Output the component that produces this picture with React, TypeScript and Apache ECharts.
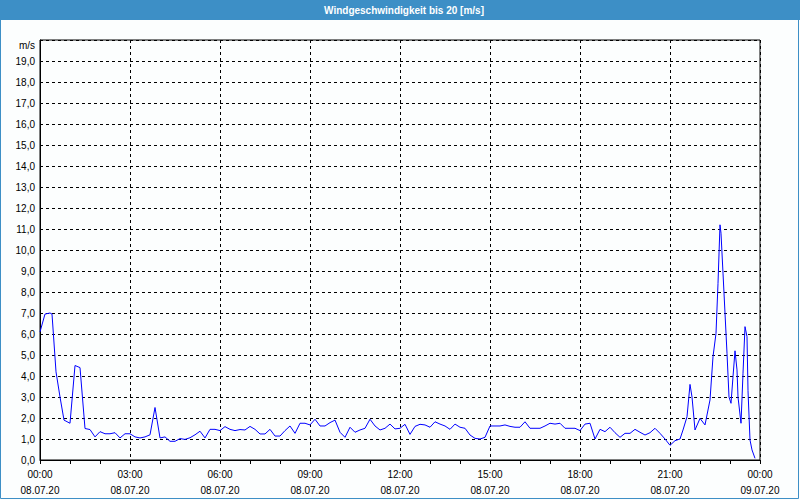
import React, { useEffect, useRef } from 'react';
import * as echarts from 'echarts';

const TITLE = 'Windgeschwindigkeit bis 20 [m/s]';
const UNIT = 'm/s';
const START_DATE = '08.07.20';
const END_DATE = '09.07.20';

// minutes since 08.07.20 00:00
const minutes = [
  0, 10, 20, 24, 32, 40, 48, 60, 70, 80, 90, 100, 110, 120, 130, 140, 150, 160, 170, 180,
  190, 200, 210, 220, 230, 240, 250, 260, 270, 280, 290, 300, 310, 320, 330, 340, 350, 360, 370, 380,
  390, 400, 410, 420, 430, 440, 450, 460, 470, 480, 490, 500, 510, 520, 530, 540, 550, 560, 570, 580,
  590, 600, 610, 620, 630, 640, 650, 660, 670, 680, 690, 700, 710, 720, 730, 740, 750, 760, 770, 780,
  790, 800, 810, 820, 830, 840, 850, 860, 870, 880, 890, 900, 910, 920, 930, 940, 950, 960, 970, 980,
  990, 1000, 1010, 1020, 1030, 1040, 1050, 1060, 1070, 1080, 1090, 1100, 1110, 1120, 1130, 1140, 1150, 1160, 1170, 1180,
  1190, 1200, 1210, 1220, 1230, 1240, 1250, 1260, 1270, 1280, 1286, 1294, 1300, 1304, 1310, 1320, 1330, 1340, 1346, 1352,
  1356, 1360, 1362, 1366, 1374, 1378, 1382, 1386, 1390, 1394, 1396, 1402, 1406, 1410, 1414, 1416, 1420, 1424, 1430
];

// wind speed in m/s
const speeds = [
  6.1, 6.95, 7.0, 6.95, 4.2, 3.0, 1.9, 1.75, 4.5, 4.4, 1.5, 1.45, 1.1, 1.35, 1.25, 1.25, 1.3, 1.05, 1.25, 1.25,
  1.1, 1.05, 1.1, 1.2, 2.5, 1.05, 1.1, 0.89, 0.89, 1.02, 0.98, 1.06, 1.2, 1.37, 1.05, 1.46, 1.46, 1.4, 1.59, 1.46,
  1.4, 1.45, 1.43, 1.6, 1.46, 1.24, 1.24, 1.46, 1.14, 1.14, 1.4, 1.62, 1.27, 1.75, 1.75, 1.67, 1.94, 1.62, 1.62, 1.78,
  1.9, 1.32, 1.08, 1.56, 1.32, 1.43, 1.51, 1.94, 1.62, 1.43, 1.51, 1.71, 1.48, 1.51, 1.7, 1.22, 1.6, 1.7, 1.67, 1.56,
  1.82, 1.71, 1.62, 1.46, 1.71, 1.56, 1.51, 1.19, 1.03, 1.0, 1.08, 1.62, 1.62, 1.62, 1.67, 1.6, 1.56, 1.56, 1.82, 1.51,
  1.51, 1.51, 1.62, 1.75, 1.71, 1.75, 1.51, 1.51, 1.51, 1.4, 1.71, 1.75, 1.0, 1.46, 1.35, 1.56, 1.3, 1.08, 1.27, 1.27,
  1.46, 1.32, 1.19, 1.3, 1.51, 1.27, 1.0, 0.7, 0.92, 1.0, 1.43, 2.06, 3.6, 3.0, 1.43, 1.98, 1.67, 2.86, 4.92, 6.03,
  8.41, 11.2, 10.8, 8.9, 5.08, 3.0, 2.7, 3.97, 5.2, 4.29, 3.0, 1.75, 4.13, 6.35, 5.87, 3.3, 0.95, 0.48, 0.08
];

const FONT = 'Liberation Sans';

function pad(n: number) {
  return n < 10 ? '0' + n : String(n);
}

export default function App() {
  const ref = useRef<HTMLDivElement>(null);
  useEffect(() => {
    const chart = echarts.init(ref.current!, null, { renderer: 'svg' });
    chart.setOption({
      animation: false,
      backgroundColor: '#fcfefe',
      textStyle: { fontFamily: FONT },
      grid: {
        left: 40, top: 40, width: 720, height: 420,
        show: true, borderColor: '#000', borderWidth: 1, backgroundColor: 'transparent'
      },
      xAxis: {
        type: 'value', min: 0, max: 1440, interval: 180,
        axisLine: { show: true, onZero: false, lineStyle: { color: '#000', width: 1 } },
        axisTick: { show: true, length: 4, lineStyle: { color: '#000' } },
        minorTick: { show: true, splitNumber: 3, length: 4, lineStyle: { color: '#000' } },
        splitLine: { show: true, lineStyle: { color: '#000', type: [3, 3], width: 1 } },
        axisLabel: {
          color: '#000', fontSize: 10, lineHeight: 16, margin: 6, fontFamily: FONT,
          showMinLabel: true, showMaxLabel: true,
          formatter: (v: number) => {
            const h = Math.floor(v / 60) % 24;
            const m = v % 60;
            const date = v >= 1440 ? END_DATE : START_DATE;
            return pad(h) + ':' + pad(m) + '\n' + date;
          }
        }
      },
      yAxis: {
        type: 'value', min: 0, max: 20, interval: 1,
        axisLine: { show: true, lineStyle: { color: '#000', width: 1 } },
        axisTick: { show: false },
        splitLine: { show: true, lineStyle: { color: '#000', type: [3, 3], width: 1 } },
        axisLabel: {
          color: '#000', fontSize: 10, margin: 5, fontFamily: FONT,
          formatter: (v: number) => (v >= 20 ? '' : v.toFixed(1).replace('.', ','))
        }
      },
      graphic: [
        { type: 'rect', shape: { x: 0, y: 0, width: 800, height: 20 }, style: { fill: '#3d8fc6' }, silent: true },
        {
          type: 'text', x: 404, y: 10,
          style: { text: TITLE, fill: '#ffffff', font: 'bold 10px "Liberation Sans"', textAlign: 'center', textVerticalAlign: 'middle' }
        },
        { type: 'rect', shape: { x: 0.5, y: 0.5, width: 798, height: 498 }, style: { fill: 'none', stroke: '#3d8fc6', lineWidth: 1 }, silent: true },
        {
          type: 'text', x: 35, y: 45,
          style: { text: UNIT, fill: '#000', font: '10px "Liberation Sans"', textAlign: 'right', textVerticalAlign: 'middle' }
        }
      ],
      series: [
        {
          type: 'line',
          data: minutes.map((m, i) => [m, speeds[i]]),
          showSymbol: false,
          symbol: 'none',
          lineStyle: { color: '#0000ff', width: 1 },
          z: 3
        }
      ]
    });
    return () => chart.dispose();
  }, []);
  return <div ref={ref} style={{ position: 'fixed', left: 0, top: 0, width: 800, height: 500 }} />;
}
